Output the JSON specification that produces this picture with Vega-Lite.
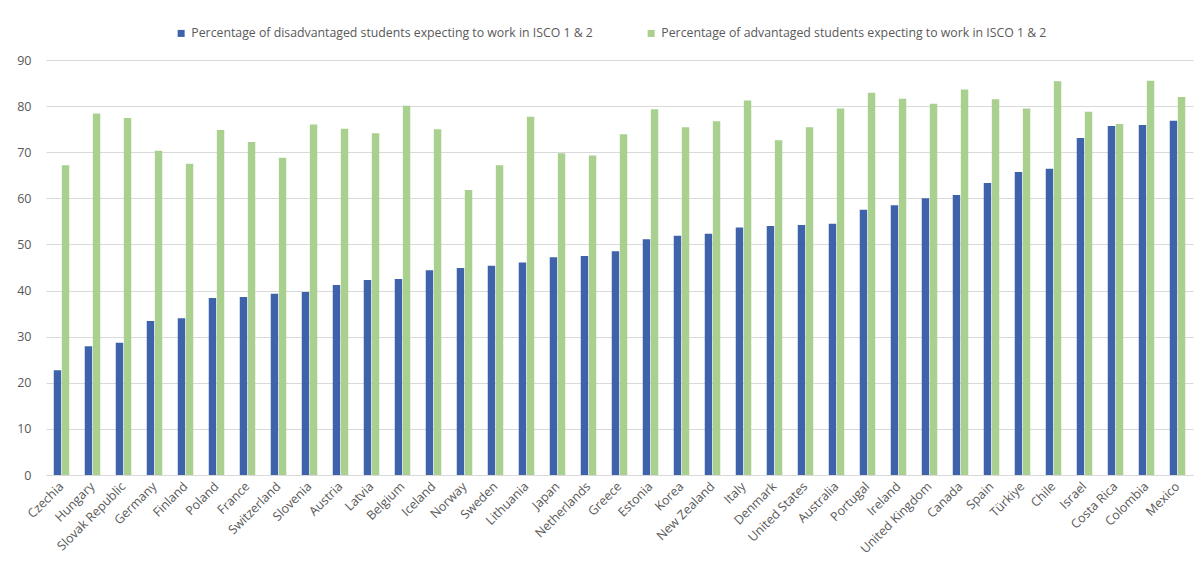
{
  "$schema": "https://vega.github.io/schema/vega-lite/v6.json",
  "width": 1147,
  "height": 415,
  "autosize": {"type": "none"},
  "padding": {"left": 46, "top": 60, "right": 4, "bottom": 102},
  "background": "white",
  "datasets": {
    "isco": [
      {"country": "Czechia", "disadvantaged": 22.7, "advantaged": 67.2},
      {"country": "Hungary", "disadvantaged": 27.9, "advantaged": 78.4},
      {"country": "Slovak Republic", "disadvantaged": 28.7, "advantaged": 77.4},
      {"country": "Germany", "disadvantaged": 33.4, "advantaged": 70.3},
      {"country": "Finland", "disadvantaged": 34.0, "advantaged": 67.5},
      {"country": "Poland", "disadvantaged": 38.4, "advantaged": 74.8},
      {"country": "France", "disadvantaged": 38.6, "advantaged": 72.2},
      {"country": "Switzerland", "disadvantaged": 39.3, "advantaged": 68.8},
      {"country": "Slovenia", "disadvantaged": 39.7, "advantaged": 76.0},
      {"country": "Austria", "disadvantaged": 41.2, "advantaged": 75.1},
      {"country": "Latvia", "disadvantaged": 42.3, "advantaged": 74.1},
      {"country": "Belgium", "disadvantaged": 42.5, "advantaged": 80.1},
      {"country": "Iceland", "disadvantaged": 44.4, "advantaged": 75.0},
      {"country": "Norway", "disadvantaged": 44.9, "advantaged": 61.8},
      {"country": "Sweden", "disadvantaged": 45.4, "advantaged": 67.2},
      {"country": "Lithuania", "disadvantaged": 46.1, "advantaged": 77.7},
      {"country": "Japan", "disadvantaged": 47.2, "advantaged": 69.8},
      {"country": "Netherlands", "disadvantaged": 47.5, "advantaged": 69.3},
      {"country": "Greece", "disadvantaged": 48.5, "advantaged": 73.9},
      {"country": "Estonia", "disadvantaged": 51.1, "advantaged": 79.3},
      {"country": "Korea", "disadvantaged": 51.9, "advantaged": 75.4},
      {"country": "New Zealand", "disadvantaged": 52.3, "advantaged": 76.7},
      {"country": "Italy", "disadvantaged": 53.7, "advantaged": 81.2},
      {"country": "Denmark", "disadvantaged": 54.0, "advantaged": 72.6},
      {"country": "United States", "disadvantaged": 54.2, "advantaged": 75.4},
      {"country": "Australia", "disadvantaged": 54.5, "advantaged": 79.5},
      {"country": "Portugal", "disadvantaged": 57.5, "advantaged": 82.9},
      {"country": "Ireland", "disadvantaged": 58.5, "advantaged": 81.6},
      {"country": "United Kingdom", "disadvantaged": 60.0, "advantaged": 80.5},
      {"country": "Canada", "disadvantaged": 60.7, "advantaged": 83.6},
      {"country": "Spain", "disadvantaged": 63.3, "advantaged": 81.5},
      {"country": "Türkiye", "disadvantaged": 65.7, "advantaged": 79.5},
      {"country": "Chile", "disadvantaged": 66.4, "advantaged": 85.4},
      {"country": "Israel", "disadvantaged": 73.1, "advantaged": 78.8},
      {"country": "Costa Rica", "disadvantaged": 75.7, "advantaged": 76.1},
      {"country": "Colombia", "disadvantaged": 75.9, "advantaged": 85.5},
      {"country": "Mexico", "disadvantaged": 76.8, "advantaged": 82.0}
    ]
  },
  "data": {"name": "isco"},
  "transform": [
    {"fold": ["disadvantaged", "advantaged"], "as": ["group", "value"]},
    {"calculate": "datum.group === 'disadvantaged' ? 'Percentage of disadvantaged students expecting to work in ISCO 1 & 2' : 'Percentage of advantaged students expecting to work in ISCO 1 & 2'", "as": "series"}
  ],
  "mark": {"type": "bar"},
  "encoding": {
    "x": {
      "field": "country",
      "type": "nominal",
      "sort": null,
      "title": null,
      "scale": {"paddingInner": 0.5, "paddingOuter": 0.25},
      "axis": {
        "labelAngle": -45,
        "labelAlign": "right",
        "labelBaseline": "middle",
        "labelPadding": 9,
        "ticks": false,
        "domainColor": "#D9D9D9",
        "domainWidth": 1,
        "labelFont": "Open Sans",
        "labelFontSize": 12.5,
        "labelColor": "#595959",
        "labelOverlap": false
      }
    },
    "xOffset": {
      "field": "series",
      "type": "nominal",
      "sort": [
        "Percentage of disadvantaged students expecting to work in ISCO 1 & 2",
        "Percentage of advantaged students expecting to work in ISCO 1 & 2"
      ],
      "scale": {"paddingInner": 0.08}
    },
    "y": {
      "field": "value",
      "type": "quantitative",
      "title": null,
      "scale": {"domain": [0, 90], "nice": false},
      "axis": {
        "values": [0, 10, 20, 30, 40, 50, 60, 70, 80, 90],
        "ticks": false,
        "domain": false,
        "gridColor": "#D9D9D9",
        "gridWidth": 1,
        "labelPadding": 15,
        "labelFont": "Open Sans",
        "labelFontSize": 12.5,
        "labelColor": "#595959"
      }
    },
    "color": {
      "field": "series",
      "type": "nominal",
      "sort": [
        "Percentage of disadvantaged students expecting to work in ISCO 1 & 2",
        "Percentage of advantaged students expecting to work in ISCO 1 & 2"
      ],
      "scale": {"range": ["#3F63AB", "#A9D08E"]},
      "legend": {
        "title": null,
        "orient": "none",
        "direction": "horizontal",
        "legendX": 129,
        "legendY": -33,
        "symbolType": "square",
        "symbolSize": 49,
        "symbolStrokeWidth": 0,
        "labelOffset": 4,
        "columnPadding": 52,
        "labelFont": "Open Sans",
        "labelFontSize": 12.3,
        "labelColor": "#595959",
        "labelLimit": 700
      }
    }
  },
  "config": {
    "view": {"stroke": null},
    "axis": {"labelColor": "#595959"},
    "legend": {"labelColor": "#595959"}
  }
}
